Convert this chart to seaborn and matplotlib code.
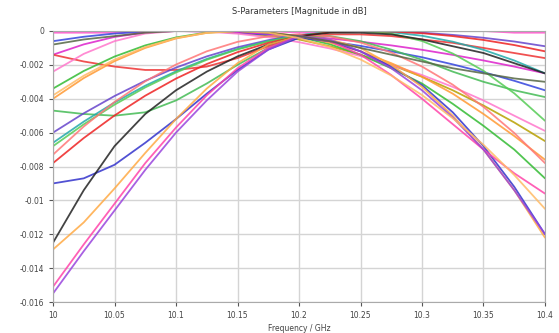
import matplotlib
matplotlib.use("Agg")
import matplotlib.pyplot as plt
import seaborn as sns
import pandas as pd

# ---- data (values in dB) ----
freq = [10.0, 10.025, 10.05, 10.075, 10.1, 10.125, 10.15, 10.175, 10.2,
        10.225, 10.25, 10.275, 10.3, 10.325, 10.35, 10.375, 10.4]

c01 = [-0.0001, -0.0001, -0.0001, 0, 0, 0, 0, 0, -0.0001, 0, 0, 0, 0, 0, 0, -0.0001, -0.0001]
c02 = [0, 0, 0, 0, 0, 0, -0.0001, -0.0003, -0.0005, -0.0009, -0.0014, -0.002, -0.0027, -0.0035, -0.0044, -0.0054, -0.0065]
c03 = [-0.0006, -0.00034, -0.00015, -0.00004, 0, -0.00002, -0.0001, -0.00022, -0.00039, -0.00061, -0.00088, -0.0012, -0.00155, -0.00197, -0.00243, -0.00294, -0.0035]
c04 = [-0.0014, -0.00079, -0.00035, -0.00009, 0, -0.00002, -0.00007, -0.00016, -0.00028, -0.00044, -0.00063, -0.00085, -0.00111, -0.00141, -0.00174, -0.0021, -0.0025]
c05 = [-0.0014, -0.0018, -0.0021, -0.0023, -0.0023, -0.0021, -0.0016, -0.0009, -0.0004, -0.0002, -0.0002, -0.0003, -0.0005, -0.0007, -0.001, -0.0013, -0.0016]
c06 = [-0.0024, -0.00135, -0.0006, -0.00015, 0, -0.00004, -0.00016, -0.00037, -0.00066, -0.00103, -0.00148, -0.002, -0.0026, -0.0033, -0.0041, -0.005, -0.0059]
c07 = [-0.0034, -0.00236, -0.00151, -0.00085, -0.00038, -0.00009, 0, -0.00009, -0.00035, -0.00078, -0.0014, -0.0022, -0.0031, -0.0043, -0.0056, -0.007, -0.0087]
c08 = [-0.004, -0.00278, -0.00178, -0.001, -0.00044, -0.00011, 0, -0.00008, -0.0003, -0.00068, -0.0012, -0.0019, -0.0027, -0.0037, -0.0049, -0.0062, -0.0076]
c09 = [-0.0047, -0.0049, -0.005, -0.0048, -0.0041, -0.0031, -0.002, -0.001, -0.0004, -0.0003, -0.0006, -0.0011, -0.0017, -0.0024, -0.003, -0.0035, -0.0039]
c10 = [-0.006, -0.00486, -0.00384, -0.00294, -0.00216, -0.0015, -0.00096, -0.00054, -0.00024, -0.00006, 0, -0.00003, -0.0001, -0.00023, -0.0004, -0.00062, -0.0009]
c11 = [-0.0066, -0.00535, -0.00422, -0.00323, -0.00238, -0.00165, -0.00106, -0.00059, -0.00026, -0.00007, 0, -0.00007, -0.00028, -0.00063, -0.00111, -0.00174, -0.0025]
c12 = [-0.0068, -0.00551, -0.00435, -0.00333, -0.00245, -0.0017, -0.00109, -0.00061, -0.00027, -0.00007, 0, -0.00015, -0.00059, -0.00133, -0.00235, -0.00368, -0.0053]
c13 = [-0.0073, -0.00564, -0.00419, -0.00297, -0.00198, -0.0012, -0.00064, -0.00031, -0.0002, -0.00032, -0.00068, -0.00127, -0.0021, -0.00317, -0.00448, -0.00602, -0.0078]
c14 = [-0.0078, -0.00632, -0.00499, -0.00382, -0.00281, -0.00195, -0.00125, -0.0007, -0.00031, -0.00008, 0, -0.00003, -0.00013, -0.0003, -0.00053, -0.00083, -0.0012]
c15 = [-0.009, -0.0087, -0.0079, -0.0066, -0.0052, -0.0037, -0.0023, -0.0011, -0.0004, -0.0006, -0.0012, -0.0021, -0.0032, -0.0048, -0.0068, -0.0092, -0.012]
c16 = [-0.0125, -0.0094, -0.0068, -0.0049, -0.0035, -0.0024, -0.0015, -0.0008, -0.0003, -0.0001, -0.0001, -0.0002, -0.0005, -0.0009, -0.0013, -0.0019, -0.0025]
c17 = [-0.0129, -0.0113, -0.0093, -0.0072, -0.0052, -0.0034, -0.0019, -0.0008, -0.0003, -0.0005, -0.001, -0.002, -0.0033, -0.005, -0.007, -0.0094, -0.0122]
c18 = [-0.0151, -0.0126, -0.0102, -0.0078, -0.0057, -0.0038, -0.0022, -0.001, -0.0003, -0.0006, -0.0014, -0.0026, -0.004, -0.0055, -0.007, -0.0084, -0.0096]
c19 = [-0.0155, -0.013, -0.0106, -0.0082, -0.006, -0.0041, -0.0024, -0.0011, -0.0003, -0.0005, -0.0012, -0.0022, -0.0035, -0.0051, -0.007, -0.0094, -0.012]
c20 = [-0.0008, -0.0005, -0.0003, -0.0001, 0, 0, 0, -0.0001, -0.0003, -0.0006, -0.001, -0.0014, -0.0018, -0.0022, -0.0025, -0.0028, -0.003]
c21 = [-0.0038, -0.00264, -0.00169, -0.00095, -0.00042, -0.00011, 0, -0.0001, -0.00042, -0.00095, -0.00168, -0.00263, -0.00378, -0.00515, -0.00672, -0.0085, -0.0105]

curve_names = ["c01", "c02", "c03", "c04", "c05", "c06", "c07", "c08", "c09", "c10",
               "c11", "c12", "c13", "c14", "c15", "c16", "c17", "c18", "c19", "c20", "c21"]
curve_values = [c01, c02, c03, c04, c05, c06, c07, c08, c09, c10,
                c11, c12, c13, c14, c15, c16, c17, c18, c19, c20, c21]

x_ticks = [10.0, 10.05, 10.1, 10.15, 10.2, 10.25, 10.3, 10.35, 10.4]
x_labels = ["10", "10.05", "10.1", "10.15", "10.2", "10.25", "10.3", "10.35", "10.4"]
y_ticks = [0, -0.002, -0.004, -0.006, -0.008, -0.01, -0.012, -0.014, -0.016]
y_labels = ["0", "-0.002", "-0.004", "-0.006", "-0.008", "-0.01", "-0.012", "-0.014", "-0.016"]

title = "S-Parameters [Magnitude in dB]"
xlabel = "Frequency / GHz"

# ---- styling ----
colors = ["#ff55cc", "#b8a000", "#3344dd", "#dd22cc", "#ee3333", "#ff77cc", "#33bb33",
          "#ff9933", "#44bb55", "#6644cc", "#22aaaa", "#55cc55", "#ff7777", "#ee2222",
          "#3333cc", "#222222", "#ffaa44", "#ff44aa", "#9944dd", "#556644", "#ffbb66"]

rows = []
for name, vals in zip(curve_names, curve_values):
    for f, v in zip(freq, vals):
        rows.append({"curve": name, "freq": f, "value": v})
df = pd.DataFrame(rows)

sns.set_style("whitegrid")
plt.rcParams["font.family"] = ["DejaVu Sans"]

fig = plt.figure(figsize=(5.59, 3.33), dpi=100)
ax = fig.add_axes([53 / 559, 31 / 333, 492 / 559, 271 / 333])

sns.lineplot(data=df, x="freq", y="value", hue="curve", palette=colors,
             legend=False, linewidth=1.3, alpha=0.85, errorbar=None, ax=ax)

ax.set_xlim(10.0, 10.4)
ax.set_ylim(-0.016, 0)
ax.set_xticks(x_ticks)
ax.set_xticklabels(x_labels)
ax.set_yticks(y_ticks)
ax.set_yticklabels(y_labels)
ax.grid(True, color="#d4d4d4", linewidth=1.0)
ax.tick_params(axis="both", labelsize=5.5, colors="#555555", length=3,
               width=0.8, direction="out", left=True, bottom=True)
for lbl in ax.get_xticklabels() + ax.get_yticklabels():
    lbl.set_color("#444444")
for sp in ax.spines.values():
    sp.set_color("#aaaaaa")
    sp.set_linewidth(0.8)

ax.set_ylabel("")
ax.set_xlabel(xlabel, fontsize=5.5, color="#444444", labelpad=3)
ax.set_title(title, fontsize=6, color="#333333", pad=12)

fig.savefig("out.png", dpi=100, facecolor="white")
